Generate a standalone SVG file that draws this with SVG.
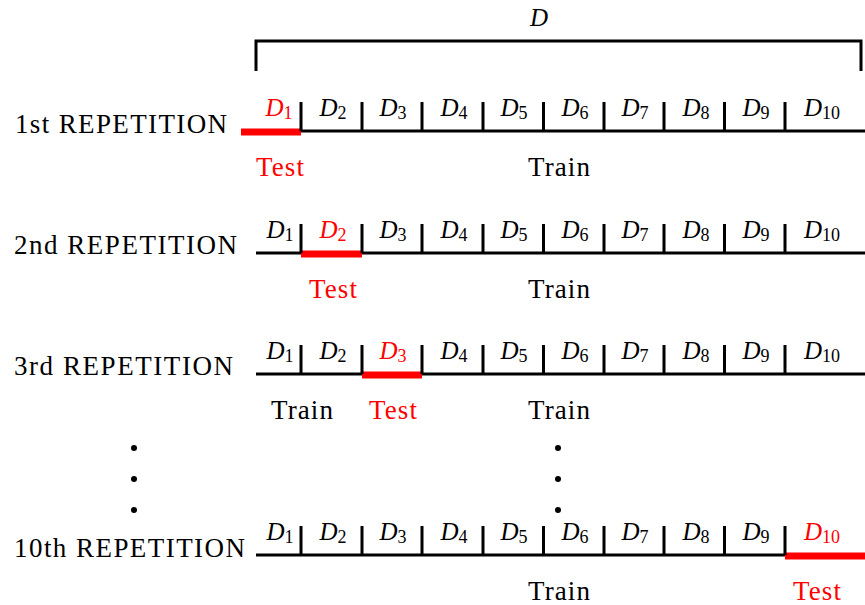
<svg xmlns="http://www.w3.org/2000/svg" width="865" height="605" viewBox="0 0 865 605">
<style>
text{font-family:"Liberation Serif","Times New Roman",serif;fill:#000}
.lbl{font-size:27px}
.d{font-size:25px;font-style:italic;text-anchor:middle}
.d tspan{font-style:normal;font-size:18px}
.red{fill:#ff0000}
.ln{stroke:#000;stroke-width:3;fill:none}
.tk{stroke:#000;stroke-width:3}
.rd{stroke:#ff0000;stroke-width:7}
.tt{font-size:27px;text-anchor:middle}
</style>
<defs>
<g id="ticks">
<path class="tk" d="M301,-29V0M362,-29V0M422,-29V0M483,-29V0M543.5,-29V0M604,-29V0M664,-29V0M724.5,-29V0M785,-29V0"/>
</g>
</defs>
<rect width="865" height="605" fill="#fff"/>
<g id="bracket">
<path class="ln" d="M256,71V41H861V71"/>
<text class="d" x="539" y="26">D</text>
</g>
<g id="rep1" transform="translate(0,131)">
<text class="lbl" x="15" y="2" textLength="212" lengthAdjust="spacing">1st REPETITION</text>
<path class="ln" d="M301,0H865"/>
<path class="rd" d="M241,1H301"/>
<use href="#ticks"/>
<text class="d red" x="279" y="-15">D<tspan dy="3">1</tspan></text>
<text class="d" x="333" y="-15">D<tspan dy="3">2</tspan></text>
<text class="d" x="393" y="-15">D<tspan dy="3">3</tspan></text>
<text class="d" x="454" y="-15">D<tspan dy="3">4</tspan></text>
<text class="d" x="514" y="-15">D<tspan dy="3">5</tspan></text>
<text class="d" x="575" y="-15">D<tspan dy="3">6</tspan></text>
<text class="d" x="635" y="-15">D<tspan dy="3">7</tspan></text>
<text class="d" x="696" y="-15">D<tspan dy="3">8</tspan></text>
<text class="d" x="756" y="-15">D<tspan dy="3">9</tspan></text>
<text class="d" x="822" y="-15">D<tspan dy="3">10</tspan></text>
<text class="tt red" x="280" y="45" textLength="48" lengthAdjust="spacing">Test</text>
<text class="tt" x="559" y="45" textLength="62" lengthAdjust="spacing">Train</text>
</g>
<g id="rep2" transform="translate(0,253)">
<text class="lbl" x="14" y="1" textLength="223" lengthAdjust="spacing">2nd REPETITION</text>
<path class="ln" d="M256,0H865"/>
<path class="rd" d="M301,1H362"/>
<use href="#ticks"/>
<text class="d" x="280" y="-15">D<tspan dy="3">1</tspan></text>
<text class="d red" x="333" y="-15">D<tspan dy="3">2</tspan></text>
<text class="d" x="393" y="-15">D<tspan dy="3">3</tspan></text>
<text class="d" x="454" y="-15">D<tspan dy="3">4</tspan></text>
<text class="d" x="514" y="-15">D<tspan dy="3">5</tspan></text>
<text class="d" x="575" y="-15">D<tspan dy="3">6</tspan></text>
<text class="d" x="635" y="-15">D<tspan dy="3">7</tspan></text>
<text class="d" x="696" y="-15">D<tspan dy="3">8</tspan></text>
<text class="d" x="756" y="-15">D<tspan dy="3">9</tspan></text>
<text class="d" x="822" y="-15">D<tspan dy="3">10</tspan></text>
<text class="tt red" x="333" y="45" textLength="48" lengthAdjust="spacing">Test</text>
<text class="tt" x="559" y="45" textLength="62" lengthAdjust="spacing">Train</text>
</g>
<g id="rep3" transform="translate(0,374)">
<text class="lbl" x="14" y="1" textLength="219" lengthAdjust="spacing">3rd REPETITION</text>
<path class="ln" d="M256,0H865"/>
<path class="rd" d="M362,1H422"/>
<use href="#ticks"/>
<text class="d" x="280" y="-15">D<tspan dy="3">1</tspan></text>
<text class="d" x="333" y="-15">D<tspan dy="3">2</tspan></text>
<text class="d red" x="393" y="-15">D<tspan dy="3">3</tspan></text>
<text class="d" x="454" y="-15">D<tspan dy="3">4</tspan></text>
<text class="d" x="514" y="-15">D<tspan dy="3">5</tspan></text>
<text class="d" x="575" y="-15">D<tspan dy="3">6</tspan></text>
<text class="d" x="635" y="-15">D<tspan dy="3">7</tspan></text>
<text class="d" x="696" y="-15">D<tspan dy="3">8</tspan></text>
<text class="d" x="756" y="-15">D<tspan dy="3">9</tspan></text>
<text class="d" x="822" y="-15">D<tspan dy="3">10</tspan></text>
<text class="tt" x="302" y="45" textLength="62" lengthAdjust="spacing">Train</text>
<text class="tt red" x="393" y="45" textLength="48" lengthAdjust="spacing">Test</text>
<text class="tt" x="559" y="45" textLength="62" lengthAdjust="spacing">Train</text>
</g>
<g id="dots">
<circle cx="134" cy="448" r="3"/><circle cx="134" cy="479" r="3"/><circle cx="134" cy="510" r="3"/>
<circle cx="558" cy="448" r="3"/><circle cx="558" cy="479" r="3"/><circle cx="558" cy="510" r="3"/>
</g>
<g id="rep10" transform="translate(0,555)">
<text class="lbl" x="14" y="2" textLength="231" lengthAdjust="spacing">10th REPETITION</text>
<path class="ln" d="M256,0H865"/>
<path class="rd" d="M785,1H865"/>
<use href="#ticks"/>
<text class="d" x="280" y="-15">D<tspan dy="3">1</tspan></text>
<text class="d" x="333" y="-15">D<tspan dy="3">2</tspan></text>
<text class="d" x="393" y="-15">D<tspan dy="3">3</tspan></text>
<text class="d" x="454" y="-15">D<tspan dy="3">4</tspan></text>
<text class="d" x="514" y="-15">D<tspan dy="3">5</tspan></text>
<text class="d" x="575" y="-15">D<tspan dy="3">6</tspan></text>
<text class="d" x="635" y="-15">D<tspan dy="3">7</tspan></text>
<text class="d" x="696" y="-15">D<tspan dy="3">8</tspan></text>
<text class="d" x="756" y="-15">D<tspan dy="3">9</tspan></text>
<text class="d red" x="822" y="-15">D<tspan dy="3">10</tspan></text>
<text class="tt" x="559" y="45" textLength="62" lengthAdjust="spacing">Train</text>
<text class="tt red" x="817" y="45" textLength="48" lengthAdjust="spacing">Test</text>
</g>
</svg>
